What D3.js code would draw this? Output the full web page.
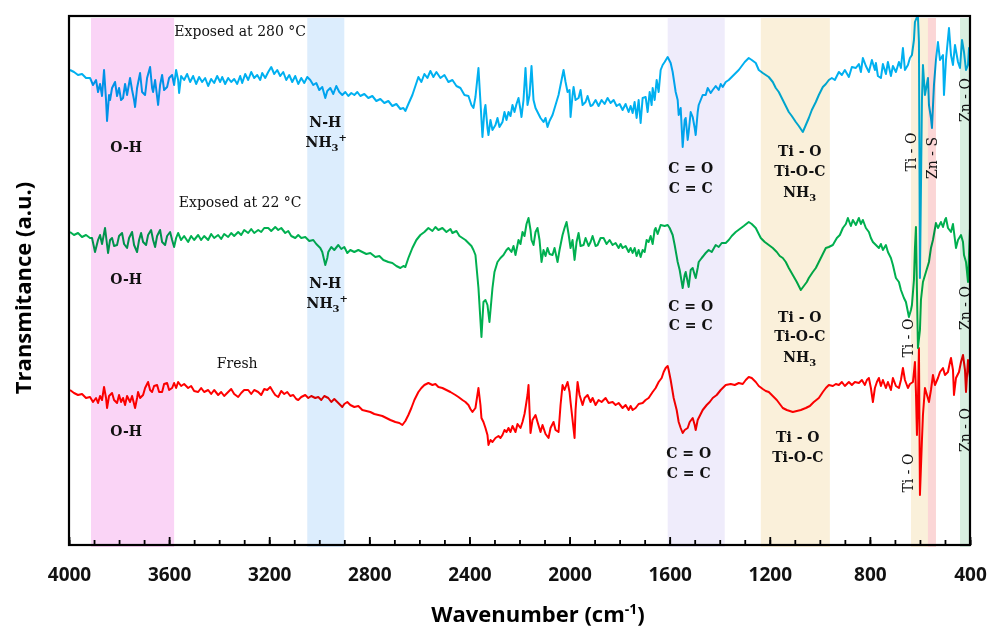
<!DOCTYPE html>
<html>
<head>
<meta charset="utf-8">
<script src="https://cdn.jsdelivr.net/npm/d3@7"></script>
<style>
  body { margin: 0; background: #fff; }
  .serif { font-family: "DejaVu Serif", serif; fill: #111; }
  .axis text { font-family: "Open Sans", sans-serif; font-weight: 700; font-size: 19px; fill: #111; }
</style>
</head>
<body>
<div id="chart"></div>
<script>
// wavenumber (cm-1), transmittance (a.u., curves stacked)
let exposed280 = [
  [3996,47.5],[3980,47.3],[3964,47.0],[3948,47.1],[3932,46.7],[3916,46.7],[3904,46.0],[3892,46.5],[3884,45.3],[3876,46.1],
  [3868,44.9],[3860,47.5],[3852,44.5],[3848,42.4],[3840,45.0],[3836,44.5],[3828,45.7],[3816,46.3],[3808,44.9],[3800,45.7],
  [3792,44.5],[3784,44.7],[3776,46.1],[3768,45.0],[3756,46.7],[3748,45.5],[3740,44.5],[3736,43.8],[3728,45.7],[3716,47.2],
  [3708,45.3],[3696,45.0],[3688,46.7],[3676,47.8],[3668,45.7],[3664,45.3],[3656,46.5],[3644,44.0],[3636,46.0],[3628,47.0],
  [3620,45.5],[3608,45.8],[3600,46.7],[3588,47.0],[3580,46.0],[3572,47.5],[3564,46.5],[3560,45.2],[3552,46.9],[3540,46.5],
  [3528,47.1],[3516,46.3],[3504,46.9],[3492,46.1],[3480,46.8],[3468,46.3],[3456,46.7],[3444,45.9],[3432,46.6],[3420,46.2],
  [3408,46.9],[3396,46.3],[3388,46.8],[3376,46.1],[3364,46.7],[3352,46.3],[3340,46.6],[3328,46.1],[3316,46.9],[3308,46.2],
  [3296,47.1],[3284,46.5],[3272,47.3],[3260,46.7],[3248,47.0],[3236,46.5],[3228,47.2],[3216,46.7],[3204,47.3],[3192,47.8],
  [3180,47.1],[3168,47.5],[3156,46.9],[3144,47.3],[3132,46.5],[3120,47.0],[3108,46.3],[3096,46.9],[3084,46.1],[3072,46.7],
  [3060,46.2],[3048,46.8],[3036,46.5],[3024,46.0],[3012,46.2],[3000,45.5],[2988,45.8],[2976,44.7],[2968,45.4],[2956,45.7],
  [2944,45.1],[2932,45.9],[2920,45.3],[2908,45.0],[2896,45.3],[2884,44.9],[2872,45.2],[2860,45.0],[2848,45.3],[2836,44.9],
  [2820,45.1],[2804,44.7],[2788,44.9],[2772,44.4],[2756,44.6],[2740,44.2],[2724,44.4],[2708,43.9],[2692,44.1],[2676,43.6],
  [2664,43.7],[2656,43.4],[2644,44.1],[2628,45.0],[2616,45.9],[2604,46.8],[2592,46.3],[2580,47.1],[2568,46.7],[2556,47.4],
  [2544,46.8],[2532,47.3],[2516,46.7],[2500,47.0],[2484,46.3],[2468,46.5],[2452,45.9],[2436,45.7],[2420,45.0],[2404,44.9],
  [2392,44.0],[2384,43.7],[2376,44.8],[2364,47.7],[2356,44.3],[2348,40.8],[2340,43.5],[2336,44.0],[2328,41.7],[2324,41.0],
  [2316,42.5],[2308,41.5],[2296,42.0],[2288,42.7],[2280,41.8],[2268,42.3],[2260,43.3],[2252,42.5],[2244,43.3],[2236,42.9],
  [2228,44.0],[2220,43.3],[2212,44.1],[2204,44.7],[2196,43.5],[2192,42.8],[2184,44.5],[2176,47.7],[2168,44.0],[2160,45.0],
  [2152,47.9],[2144,44.5],[2136,43.7],[2128,43.3],[2116,42.7],[2104,42.3],[2096,42.7],[2088,41.8],[2080,42.4],[2068,43.0],
  [2056,44.0],[2044,45.0],[2032,46.5],[2024,47.5],[2016,46.3],[2008,45.3],[2000,45.5],[1996,42.8],[1988,45.0],[1984,45.8],
  [1976,44.5],[1964,44.7],[1956,45.5],[1948,44.0],[1936,44.3],[1928,44.9],[1916,43.9],[1908,44.0],[1896,44.5],[1884,43.9],
  [1872,44.5],[1860,44.1],[1848,44.7],[1836,44.2],[1824,44.5],[1812,43.9],[1800,44.1],[1788,43.5],[1776,44.1],[1764,43.3],
  [1756,43.9],[1748,43.2],[1740,44.3],[1732,42.7],[1724,44.5],[1716,42.2],[1708,44.7],[1696,44.8],[1688,43.3],[1680,45.3],
  [1672,44.0],[1668,45.7],[1660,44.5],[1652,46.5],[1644,45.3],[1636,47.5],[1628,48.0],[1620,48.3],[1608,48.8],[1596,48.2],
  [1588,47.3],[1576,45.3],[1568,44.5],[1564,43.0],[1556,43.7],[1548,39.8],[1540,42.5],[1536,42.7],[1528,40.5],[1524,41.3],
  [1516,43.3],[1508,42.8],[1500,41.7],[1496,41.0],[1488,43.3],[1484,44.0],[1476,44.5],[1468,45.0],[1456,45.0],[1448,45.7],
  [1436,45.2],[1428,45.5],[1416,45.9],[1404,45.5],[1396,46.1],[1388,45.8],[1376,46.3],[1364,46.5],[1352,46.8],[1340,47.1],
  [1324,47.5],[1312,47.9],[1300,48.3],[1284,48.7],[1272,48.5],[1256,48.2],[1244,47.5],[1228,47.2],[1216,47.0],[1204,46.8],
  [1188,46.3],[1176,45.7],[1164,45.3],[1148,44.5],[1136,43.9],[1124,43.3],[1112,42.9],[1096,42.3],[1084,41.9],[1068,41.3],
  [1056,42.0],[1044,42.7],[1032,43.5],[1016,44.3],[1004,45.0],[988,45.8],[976,46.1],[964,46.5],[952,46.7],[940,46.5],
  [924,47.3],[912,47.0],[900,47.5],[884,46.8],[872,47.8],[856,47.7],[844,48.1],[836,47.3],[828,48.7],[816,47.9],
  [804,47.3],[792,48.5],[780,47.5],[776,48.2],[768,46.9],[756,46.7],[748,48.1],[736,47.1],[728,48.3],[716,46.9],
  [708,47.9],[696,47.3],[684,48.3],[676,47.7],[668,49.7],[660,47.5],[648,48.0],[640,48.7],[632,49.0],[624,50.5],
  [620,52.3],[612,52.8],[608,52.8],[604,50.3],[600,26.7],[592,44.5],[588,48.0],[580,45.0],[568,46.7],[564,44.0],
  [556,42.7],[552,41.7],[544,46.0],[536,48.5],[528,50.3],[520,48.5],[508,49.0],[504,45.0],[496,48.5],[484,51.7],
  [476,49.0],[468,48.0],[460,50.0],[448,48.3],[440,47.7],[432,50.5],[424,49.3],[416,47.5],[408,48.0],[404,49.7],
  [400,48.3]
]

let exposed22 = [
  [3996,31.3],[3980,31.0],[3964,31.2],[3948,30.8],[3932,31.0],[3916,30.7],[3908,30.7],[3896,29.3],[3884,30.5],[3876,31.0],
  [3868,30.1],[3856,31.7],[3844,29.2],[3836,30.5],[3828,30.7],[3820,29.9],[3808,30.0],[3800,30.9],[3788,31.2],[3780,30.1],
  [3768,29.7],[3760,30.7],[3748,31.3],[3740,30.0],[3728,29.3],[3720,30.5],[3712,31.2],[3704,30.3],[3692,30.0],[3684,31.0],
  [3672,31.5],[3664,30.5],[3656,29.8],[3648,30.9],[3636,31.5],[3628,30.3],[3616,30.0],[3608,30.9],[3596,31.3],[3588,30.5],
  [3580,29.8],[3572,30.7],[3564,31.2],[3552,30.5],[3540,30.9],[3524,30.3],[3512,30.9],[3500,30.5],[3484,31.0],[3472,30.5],
  [3460,30.9],[3444,30.5],[3432,31.1],[3420,30.7],[3404,31.0],[3392,30.6],[3380,31.1],[3364,30.8],[3352,31.2],[3340,30.9],
  [3324,31.3],[3312,31.0],[3300,31.5],[3284,31.2],[3272,31.6],[3260,31.2],[3244,31.5],[3232,31.3],[3220,31.7],[3204,31.7],
  [3192,31.4],[3176,31.8],[3164,31.5],[3152,31.7],[3136,31.2],[3124,31.4],[3112,30.9],[3096,30.7],[3084,31.0],[3072,30.7],
  [3056,30.8],[3040,30.4],[3024,30.5],[3012,30.1],[2996,29.7],[2988,29.3],[2976,28.0],[2968,28.7],[2964,29.3],[2952,29.8],
  [2940,29.5],[2924,30.0],[2912,29.6],[2900,29.8],[2888,29.2],[2876,29.5],[2860,29.3],[2844,29.5],[2828,29.3],[2812,29.1],
  [2796,29.2],[2776,28.8],[2760,28.9],[2744,28.5],[2724,28.3],[2708,28.2],[2692,27.9],[2676,27.7],[2664,27.9],[2656,27.8],
  [2644,28.7],[2628,29.7],[2612,30.5],[2596,31.0],[2580,31.3],[2564,31.7],[2548,31.4],[2536,31.8],[2524,31.5],[2508,31.7],
  [2492,31.3],[2476,31.6],[2468,31.2],[2452,31.4],[2440,30.9],[2428,30.7],[2416,30.5],[2404,30.2],[2392,29.9],[2384,29.5],
  [2376,29.0],[2364,25.7],[2352,20.8],[2344,24.3],[2336,24.5],[2328,24.0],[2320,22.3],[2308,25.7],[2300,27.3],[2288,28.3],
  [2276,28.7],[2264,29.0],[2252,29.5],[2244,29.7],[2232,29.3],[2224,29.9],[2216,29.0],[2204,30.5],[2196,30.1],[2188,31.3],
  [2180,30.9],[2172,32.1],[2164,32.7],[2156,31.5],[2152,30.5],[2144,30.0],[2136,31.3],[2128,31.7],[2120,30.5],[2112,28.3],
  [2104,29.5],[2096,28.9],[2088,29.7],[2080,29.1],[2068,29.0],[2060,29.7],[2048,28.3],[2040,29.5],[2028,31.0],[2020,31.7],
  [2012,32.3],[2004,31.1],[1996,29.7],[1988,30.5],[1980,28.5],[1972,30.3],[1964,31.2],[1956,29.9],[1944,30.0],[1936,30.7],
  [1924,29.9],[1916,30.3],[1908,30.9],[1896,29.9],[1888,30.0],[1876,30.7],[1864,30.7],[1852,30.1],[1840,30.5],[1828,30.0],
  [1816,30.2],[1804,29.7],[1796,30.1],[1788,29.7],[1776,29.9],[1764,29.3],[1756,29.7],[1748,29.2],[1740,29.7],[1732,28.9],
  [1724,29.5],[1716,28.8],[1708,29.5],[1700,29.3],[1692,30.5],[1684,30.3],[1676,30.9],[1668,30.1],[1660,31.5],[1656,31.7],
  [1648,31.1],[1636,32.0],[1620,31.9],[1608,32.0],[1600,31.7],[1588,31.0],[1580,30.0],[1568,28.3],[1560,27.5],[1548,25.7],
  [1540,27.0],[1536,27.3],[1528,26.3],[1524,25.8],[1516,27.5],[1508,27.7],[1500,27.0],[1496,26.7],[1488,27.7],[1484,28.3],
  [1472,28.7],[1456,29.2],[1444,29.5],[1432,29.3],[1416,30.0],[1404,29.8],[1392,30.2],[1376,30.2],[1364,30.5],[1352,30.9],
  [1336,31.3],[1320,31.6],[1304,31.9],[1284,32.3],[1272,32.1],[1256,31.7],[1244,31.1],[1236,30.7],[1220,30.3],[1204,30.0],
  [1188,29.7],[1172,29.3],[1160,28.9],[1148,28.7],[1136,28.3],[1124,27.7],[1108,27.0],[1092,26.3],[1076,25.5],[1064,25.9],
  [1052,26.3],[1044,26.7],[1028,27.3],[1016,27.7],[1004,28.3],[992,28.9],[976,29.7],[964,29.8],[948,30.0],[932,30.7],
  [920,31.0],[908,31.7],[896,32.1],[888,32.7],[876,31.9],[868,32.5],[856,32.0],[844,32.7],[836,32.1],[828,32.5],
  [816,31.7],[804,31.3],[796,30.7],[788,30.3],[776,30.0],[764,29.7],[756,30.1],[748,29.5],[736,30.0],[728,29.3],
  [716,28.7],[708,28.0],[696,26.7],[684,26.3],[676,25.5],[664,24.7],[656,24.3],[644,22.8],[636,23.5],[632,24.0],
  [624,26.5],[620,29.7],[616,31.8],[612,25.5],[608,19.7],[600,21.5],[596,24.5],[588,26.3],[576,27.3],[564,28.3],
  [556,29.7],[548,30.5],[536,32.2],[528,31.7],[516,32.3],[508,31.8],[500,32.5],[496,32.7],[488,31.7],[476,31.3],
  [468,32.1],[456,29.7],[448,30.5],[436,31.0],[428,30.3],[424,29.0],[416,28.3],[408,26.3],[404,29.0],[400,31.7]
]

let fresh = [
  [3996,15.5],[3980,15.2],[3964,15.0],[3948,15.1],[3932,14.7],[3916,14.8],[3904,14.3],[3892,14.7],[3884,14.2],[3876,14.9],
  [3868,14.5],[3860,15.8],[3852,14.7],[3848,13.7],[3840,14.9],[3828,15.2],[3820,14.5],[3808,14.2],[3800,15.0],[3792,14.3],
  [3784,14.7],[3776,14.0],[3768,14.9],[3756,14.3],[3748,14.9],[3740,14.1],[3736,13.7],[3728,14.7],[3724,15.3],[3716,14.7],
  [3704,15.0],[3696,15.7],[3684,16.3],[3676,15.5],[3668,15.3],[3660,15.9],[3648,16.0],[3640,15.3],[3628,15.3],[3620,16.1],
  [3608,16.2],[3600,15.5],[3588,15.7],[3580,16.2],[3572,15.7],[3564,16.3],[3552,15.9],[3540,16.1],[3524,15.7],[3512,15.9],
  [3500,15.4],[3484,15.3],[3472,15.7],[3460,15.3],[3444,15.5],[3432,15.1],[3420,15.5],[3404,15.0],[3392,15.3],[3380,14.9],
  [3364,15.3],[3352,15.6],[3340,15.1],[3324,14.8],[3312,15.2],[3300,15.5],[3284,15.5],[3272,15.1],[3260,15.5],[3244,15.3],
  [3232,15.0],[3220,15.6],[3208,15.5],[3196,15.8],[3184,15.3],[3176,15.0],[3164,14.8],[3152,15.4],[3140,15.1],[3128,15.3],
  [3116,14.9],[3104,15.0],[3092,14.6],[3084,14.5],[3072,14.8],[3056,15.0],[3044,14.7],[3032,14.9],[3016,14.7],[3004,14.8],
  [2992,14.5],[2980,14.9],[2964,14.7],[2952,14.3],[2940,14.6],[2924,14.2],[2908,13.8],[2900,14.1],[2888,14.3],[2876,14.0],
  [2860,13.8],[2844,13.9],[2828,13.5],[2812,13.4],[2796,13.3],[2780,13.1],[2764,13.0],[2748,12.9],[2732,12.7],[2716,12.5],
  [2696,12.3],[2680,12.2],[2668,12.0],[2656,12.4],[2644,13.0],[2632,13.7],[2620,14.5],[2604,15.3],[2592,15.7],[2580,16.0],
  [2564,16.2],[2548,16.0],[2536,16.1],[2524,15.8],[2508,15.7],[2492,15.5],[2476,15.3],[2456,15.0],[2444,14.8],[2428,14.5],
  [2416,14.3],[2404,14.0],[2396,13.6],[2388,13.3],[2376,13.7],[2364,15.7],[2356,14.0],[2352,12.7],[2344,12.3],[2336,11.7],
  [2328,11.0],[2324,10.0],[2316,10.5],[2308,10.3],[2296,10.7],[2284,10.9],[2276,10.7],[2268,11.0],[2260,11.5],[2252,11.3],
  [2244,11.7],[2236,11.3],[2228,11.9],[2216,11.3],[2208,12.1],[2196,11.7],[2188,12.3],[2180,13.1],[2176,13.7],[2168,15.0],
  [2164,16.0],[2160,13.5],[2156,11.2],[2148,12.5],[2136,13.0],[2128,12.3],[2116,11.3],[2108,12.0],[2096,11.1],[2084,10.7],
  [2076,11.7],[2064,12.3],[2056,11.5],[2044,11.3],[2036,14.0],[2028,16.0],[2020,15.5],[2008,16.3],[2000,15.3],[1996,14.3],
  [1988,12.5],[1980,10.7],[1976,13.5],[1968,16.3],[1960,15.0],[1948,14.0],[1940,14.7],[1928,15.0],[1916,14.3],[1908,14.7],
  [1896,14.0],[1884,14.5],[1872,14.3],[1856,14.7],[1844,14.2],[1828,14.3],[1816,14.0],[1804,14.2],[1788,13.7],[1776,14.0],
  [1764,13.5],[1756,13.9],[1748,13.5],[1736,13.7],[1724,14.1],[1708,14.2],[1696,14.5],[1684,14.7],[1668,15.3],[1656,15.7],
  [1644,16.3],[1632,16.7],[1624,17.3],[1616,17.7],[1608,17.9],[1604,17.5],[1596,16.5],[1584,14.7],[1572,13.5],[1564,12.3],
  [1556,11.7],[1548,11.2],[1540,11.5],[1528,11.7],[1520,12.3],[1508,12.7],[1500,12.0],[1496,11.5],[1488,12.5],[1476,13.1],
  [1468,13.5],[1452,14.0],[1440,14.3],[1428,14.7],[1412,15.0],[1396,15.5],[1376,16.0],[1356,16.1],[1340,16.0],[1324,16.2],
  [1308,16.1],[1296,16.5],[1284,16.8],[1272,16.7],[1256,16.3],[1244,15.9],[1228,15.6],[1216,15.4],[1204,15.3],[1188,14.9],
  [1172,14.5],[1160,14.1],[1148,13.7],[1132,13.5],[1120,13.4],[1108,13.3],[1092,13.4],[1076,13.5],[1056,13.7],[1040,13.9],
  [1024,14.3],[1004,14.7],[988,15.3],[976,15.7],[964,16.0],[948,15.9],[936,16.1],[924,16.0],[912,16.3],[900,15.9],
  [884,16.3],[872,16.0],[860,16.3],[844,16.2],[832,16.5],[820,16.0],[812,16.5],[804,16.7],[796,15.7],[788,14.3],
  [780,15.7],[772,16.3],[764,16.7],[756,15.9],[748,16.5],[736,15.7],[728,16.3],[716,15.5],[708,16.7],[696,15.9],
  [684,15.7],[676,16.5],[668,17.7],[660,16.5],[648,15.7],[640,16.1],[628,16.3],[620,18.3],[616,15.3],[612,11.0],
  [608,14.5],[604,19.7],[600,5.0],[592,10.5],[588,13.0],[580,15.7],[572,15.0],[564,14.3],[556,15.5],[548,17.0],
  [540,16.0],[528,16.7],[520,17.3],[508,17.7],[500,17.0],[488,17.3],[480,18.3],[476,18.7],[468,17.5],[464,15.0],
  [456,16.7],[444,17.3],[436,18.3],[428,19.0],[420,17.5],[416,15.3],[408,18.5],[404,17.5],[400,16.7]
]

// shaded assignment regions (cm-1)
let bandRanges = [[3912, 3580], [3048, 2900], [1608, 1380], [1236, 960], [636, 568], [568, 536], [440, 400]]
let majorTicks = [4000, 3600, 3200, 2800, 2400, 2000, 1600, 1200, 800, 400]
let minorTicks = d3.range(4000, 399, -100)

// annotations: text, wavenumber, value
let seriesLabels = [
  ["Exposed at 280 °C", 3316, 51.4],
  ["Exposed at 22 °C", 3316, 34.3],
  ["Fresh", 3328, 18.2]
]
let bandLabels = [
  ["O-H", 3772, 39.8], ["O-H", 3772, 26.6], ["O-H", 3772, 11.4],
  ["N-H", 2976, 42.3], ["NH3+", 2972, 40.3], ["N-H", 2976, 26.2], ["NH3+", 2968, 24.2],
  ["C = O", 1516, 37.7], ["C = C", 1516, 35.7],
  ["C = O", 1516, 23.9], ["C = C", 1516, 22.0],
  ["C = O", 1524, 9.2], ["C = C", 1524, 7.2],
  ["Ti - O", 1080, 39.4], ["Ti-O-C", 1080, 37.4], ["NH3", 1080, 35.3],
  ["Ti - O", 1080, 22.8], ["Ti-O-C", 1080, 20.9], ["NH3", 1080, 18.8],
  ["Ti - O", 1088, 10.8], ["Ti-O-C", 1088, 8.8]
]
let sideLabels = [
  ["Ti - O", 636, 39.3], ["Zn - S", 552, 38.7], ["Zn - O", 420, 44.5],
  ["Ti - O", 648, 20.7], ["Zn - O", 420, 23.7],
  ["Ti - O", 648, 7.2], ["Zn - O", 420, 11.5]
]

let margin = {top: 16, right: 19, bottom: 85, left: 69}
let width = 989 - margin.left - margin.right
let height = 630 - margin.top - margin.bottom

let svg = d3.select("#chart")
    .append("svg")
    .attr("width", 989)
    .attr("height", 630)
    .append("g")
    .attr("transform", "translate(" + margin.left + "," + margin.top + ")")

let x = d3.scaleLinear().domain([4000, 400]).range([0, width])
let y = d3.scaleLinear().domain([0, 52.9]).range([height, 0])

svg.append("clipPath").attr("id", "clip")
    .append("rect").attr("width", width).attr("height", height)

let line = d3.line()
    .x(function (d) { return x(d[0]) })
    .y(function (d) { return y(d[1]) })

let series = [
    {data: fresh, color: "#ff0000"},
    {data: exposed22, color: "#00b050"},
    {data: exposed280, color: "#00b0f0"}
]
svg.append("g").attr("clip-path", "url(#clip)")
    .selectAll("path")
    .data(series)
    .enter()
    .append("path")
    .attr("d", function (d) { return line(d.data) })
    .attr("fill", "none")
    .attr("stroke", function (d) { return d.color })
    .attr("stroke-width", 2)
    .attr("stroke-linejoin", "round")

// bands sit over the lines and tint them
let bandColors = ["#fad4f6", "#dcedfd", "#efecfb", "#faf0da", "#faf0da", "#fbd6d6", "#d8efe0"]
svg.append("g")
    .selectAll("rect")
    .data(bandRanges)
    .enter()
    .append("rect")
    .attr("x", function (d) { return x(d[0]) })
    .attr("width", function (d) { return x(d[1]) - x(d[0]) })
    .attr("y", 2)
    .attr("height", height)
    .attr("fill", function (d, i) { return bandColors[i] })
    .style("mix-blend-mode", "multiply")

// frame
svg.append("rect")
    .attr("width", width)
    .attr("height", height)
    .attr("fill", "none")
    .attr("stroke", "#000")
    .attr("stroke-width", 2.2)

svg.append("g")
    .attr("class", "axis")
    .attr("transform", "translate(0," + height + ")")
    .call(d3.axisBottom(x).tickValues(minorTicks).tickSize(-5).tickFormat(""))
    .call(function (g) { g.select(".domain").remove() })
    .selectAll("line").attr("stroke-width", 1.8)

let xAxis = svg.append("g")
    .attr("class", "axis")
    .attr("transform", "translate(0," + height + ")")
    .call(d3.axisBottom(x).tickValues(majorTicks).tickSize(-8).tickPadding(23).tickFormat(d3.format("d")))
xAxis.select(".domain").remove()
xAxis.selectAll("line").attr("stroke-width", 1.8)

let xTitle = svg.append("text")
    .attr("x", 469)
    .attr("y", 606)
    .attr("text-anchor", "middle")
    .style("font-family", "Open Sans, sans-serif")
    .style("font-weight", 700)
    .style("font-size", "22px")
xTitle.append("tspan").text("Wavenumber (cm")
xTitle.append("tspan").attr("dy", -8).style("font-size", "14px").text("-1")
xTitle.append("tspan").attr("dy", 8).text(")")

svg.append("text")
    .attr("transform", "translate(-46," + 272 + ")rotate(-90)")
    .attr("text-anchor", "middle")
    .attr("dy", "0.35em")
    .style("font-family", "Open Sans, sans-serif")
    .style("font-weight", 700)
    .style("font-size", "22px")
    .text("Transmitance (a.u.)")

svg.selectAll(".slabel")
    .data(seriesLabels)
    .enter()
    .append("text")
    .attr("class", "serif")
    .attr("x", function (d) { return x(d[1]) })
    .attr("y", function (d) { return y(d[2]) })
    .attr("dy", "0.35em")
    .attr("text-anchor", "middle")
    .style("font-size", "14px")
    .text(function (d) { return d[0] })

let bl = svg.selectAll(".blabel")
    .data(bandLabels)
    .enter()
    .append("text")
    .attr("class", "serif")
    .attr("x", function (d) { return x(d[1]) })
    .attr("y", function (d) { return y(d[2]) })
    .attr("dy", "0.35em")
    .attr("text-anchor", "middle")
    .style("font-size", "14px")
    .style("font-weight", 700)
bl.each(function (d) {
    let t = d3.select(this)
    if (d[0].indexOf("NH3") === 0) {
        t.append("tspan").text("NH")
        t.append("tspan").attr("dy", 4).style("font-size", "10px").text("3")
        if (d[0] === "NH3+") t.append("tspan").attr("dy", -10).style("font-size", "10px").text("+")
    } else {
        t.text(d[0])
    }
})

svg.selectAll(".rlabel")
    .data(sideLabels)
    .enter()
    .append("text")
    .attr("class", "serif")
    .attr("transform", function (d) { return "translate(" + x(d[1]) + "," + y(d[2]) + ")rotate(-90)" })
    .attr("dy", "0.35em")
    .attr("text-anchor", "middle")
    .style("font-size", "14px")
    .text(function (d) { return d[0] })
</script>
</body>
</html>
